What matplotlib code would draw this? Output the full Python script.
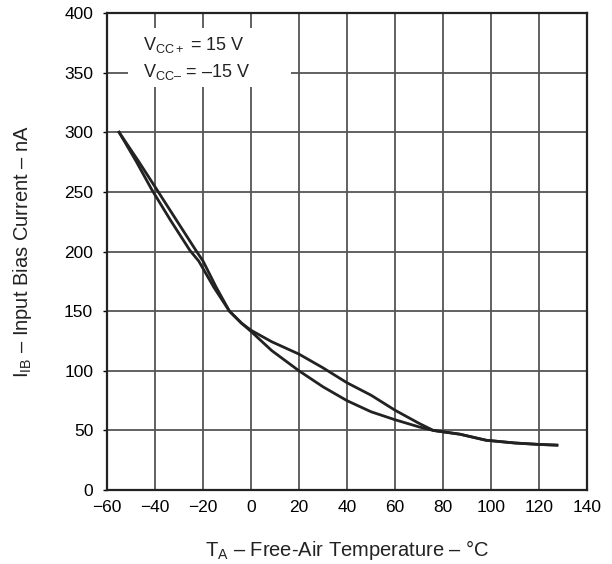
import numpy as np
import matplotlib
matplotlib.use("Agg")
import matplotlib.pyplot as plt
from matplotlib.patches import Rectangle

plt.rcParams['font.family'] = ['Liberation Sans', 'DejaVu Sans']
plt.rcParams['mathtext.fontset'] = 'custom'
plt.rcParams['mathtext.rm'] = 'Liberation Sans'
plt.rcParams['mathtext.it'] = 'Liberation Sans'
plt.rcParams['mathtext.default'] = 'regular'

# curve readings (temperature in degC, bias current in nA)
temp_a = [-55, -48, -41.4, -33.5, -25.5, -21.8, -15.5, -9, -4, 0, 8.6, 20, 30, 40, 50, 60, 70, 76, 87, 98, 110, 120, 127.5]
ib_a = [300, 276, 252, 226, 201, 192, 170, 150, 140, 133, 117, 100, 86.6, 75, 65.7, 59, 53, 50, 46.9, 41.8, 39.5, 38.3, 37.7]

temp_b = [-55, -47, -39.3, -31, -23, -20, -14.5, -9, -4, 0, 8.6, 20, 30, 40, 50, 60, 70, 76, 87, 98, 110, 120, 127.5]
ib_b = [300, 276, 252, 226, 201, 192, 170, 150, 140, 134, 124.4, 114, 102.5, 90, 79.6, 67, 56, 50, 46.9, 41.8, 39.5, 38.3, 37.7]

xticks = [-60, -40, -20, 0, 20, 40, 60, 80, 100, 120, 140]
xticklabels = ['\u221260', '\u221240', '\u221220', '0', '20', '40', '60', '80', '100', '120', '140']
yticks = [0, 50, 100, 150, 200, 250, 300, 350, 400]

fig = plt.figure(figsize=(6.12, 5.64), dpi=100)
ax = fig.add_axes([0.175, 0.131, 0.784, 0.846])

ax.plot(temp_a, ib_a, color='#222222', lw=2.0, zorder=4)
ax.plot(temp_b, ib_b, color='#222222', lw=2.0, zorder=4)

ax.set_xlim(-60, 140)
ax.set_ylim(0, 400)
ax.set_xticks(xticks)
ax.set_xticklabels(xticklabels)
ax.set_yticks(yticks)
ax.grid(True, color='#555555', lw=1.3)
ax.set_axisbelow(True)
ax.tick_params(axis='x', labelsize=12.5, length=0, pad=7)
ax.tick_params(axis='y', labelsize=12.5, length=3, width=1, pad=7)
for s in ax.spines.values():
    s.set_linewidth(1.6)
    s.set_color('#222222')

# white box behind the supply labels, hides the grid
ax.add_patch(Rectangle((0.044, 0.845), 0.34, 0.124, transform=ax.transAxes,
                       facecolor='white', edgecolor='none', zorder=2))
ax.text(0.074, 0.933, r'$V_{CC+}$ = 15 V', transform=ax.transAxes,
        fontsize=13, va='center', zorder=3, color='#222222')
ax.text(0.074, 0.877, '$V_{CC\u2013}$ = \u201315 V', transform=ax.transAxes,
        fontsize=13, va='center', zorder=3, color='#222222')

ax.set_xlabel('$T_A$ \u2013 Free-Air Temperature \u2013 \u00b0C', fontsize=14.5, labelpad=17, color='#222222')
ax.set_ylabel('$I_{IB}$ \u2013 Input Bias Current \u2013 nA', fontsize=14.5, labelpad=22, color='#222222')

fig.savefig('out.png', dpi=100, facecolor='white')
